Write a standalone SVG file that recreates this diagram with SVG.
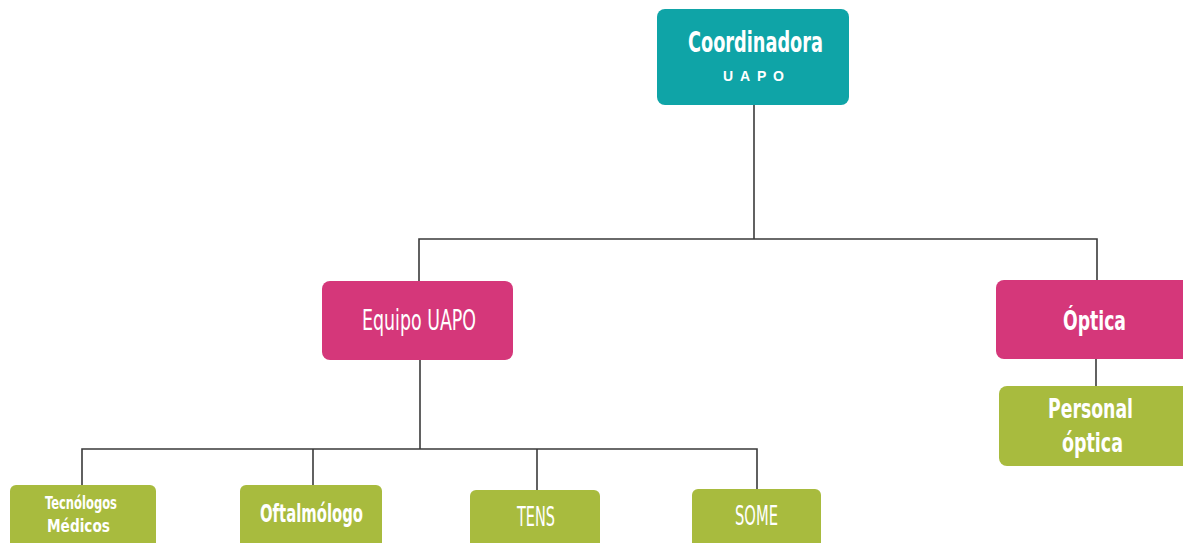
<svg xmlns="http://www.w3.org/2000/svg" width="1183" height="543" viewBox="0 0 1183 543">
  <style>
    .lnk { stroke: #3a3a3a; stroke-width: 1.6; fill: none; }
    .teal { fill: #0fa4a7; }
    .pink { fill: #d5377a; }
    .lime { fill: #a8bb3e; }
    .lbl { font-family: "DejaVu Sans Condensed", "DejaVu Sans", sans-serif; fill: #ffffff; text-anchor: middle; }
    .b { font-weight: bold; }
    .sub { font-family: "Liberation Sans", "DejaVu Sans", sans-serif; fill: #ffffff; text-anchor: middle; font-size: 14px; font-weight: bold; }
  </style>
  <rect width="1183" height="543" fill="#ffffff"/>

  <g id="connectors">
    <path class="lnk" d="M754 105 V239"/>
    <path class="lnk" d="M419 282 V239 H1097 V281"/>
    <path class="lnk" d="M1096 359 V387"/>
    <path class="lnk" d="M420 360 V449"/>
    <path class="lnk" d="M82 485 V449 H757 V489"/>
    <path class="lnk" d="M313 449 V485"/>
    <path class="lnk" d="M537 449 V490"/>
  </g>

  <g id="coordinadora">
    <rect class="teal" x="657" y="9" width="192" height="96" rx="8"/>
    <text class="lbl b" x="755.5" y="52" font-size="29" textLength="135" lengthAdjust="spacingAndGlyphs">Coordinadora</text>
    <text class="sub" x="753.5" y="81" textLength="61" lengthAdjust="spacing">UAPO</text>
  </g>

  <g id="equipo-uapo">
    <rect class="pink" x="322" y="281" width="191" height="79" rx="8"/>
    <text class="lbl" x="419" y="330" font-size="28" textLength="114" lengthAdjust="spacingAndGlyphs">Equipo UAPO</text>
  </g>

  <g id="optica">
    <rect class="pink" x="996" y="280" width="195" height="79" rx="8"/>
    <text class="lbl b" x="1094.5" y="330" font-size="26" textLength="63" lengthAdjust="spacingAndGlyphs">Óptica</text>
  </g>

  <g id="personal-optica">
    <rect class="lime" x="999" y="386" width="192" height="80" rx="8"/>
    <text class="lbl b" x="1090.5" y="418" font-size="27" textLength="85" lengthAdjust="spacingAndGlyphs">Personal</text>
    <text class="lbl b" x="1092.5" y="452" font-size="27" textLength="61" lengthAdjust="spacingAndGlyphs">óptica</text>
  </g>

  <g id="tecnologos">
    <rect class="lime" x="10" y="485" width="146" height="64" rx="6"/>
    <text class="lbl b" x="81" y="509" font-size="18" textLength="72" lengthAdjust="spacingAndGlyphs">Tecnólogos</text>
    <text class="lbl b" x="78.5" y="532" font-size="18" textLength="63" lengthAdjust="spacingAndGlyphs">Médicos</text>
  </g>

  <g id="oftalmologo">
    <rect class="lime" x="240" y="485" width="142" height="64" rx="6"/>
    <text class="lbl b" x="311.5" y="522" font-size="25" textLength="103" lengthAdjust="spacingAndGlyphs">Oftalmólogo</text>
  </g>

  <g id="tens">
    <rect class="lime" x="470" y="490" width="130" height="60" rx="6"/>
    <text class="lbl" x="536" y="526" font-size="26" textLength="38" lengthAdjust="spacingAndGlyphs">TENS</text>
  </g>

  <g id="some">
    <rect class="lime" x="692" y="489" width="129" height="60" rx="6"/>
    <text class="lbl" x="756.5" y="525" font-size="26" textLength="43" lengthAdjust="spacingAndGlyphs">SOME</text>
  </g>
</svg>
